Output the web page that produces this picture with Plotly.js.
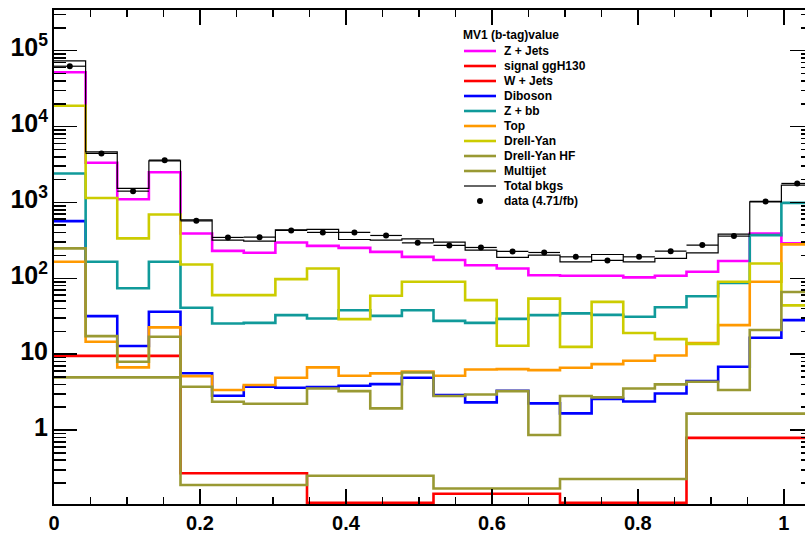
<!DOCTYPE html>
<html><head><meta charset="utf-8">
<script src="https://cdn.plot.ly/plotly-3.0.1.min.js"></script>
<style>html,body{margin:0;padding:0;overflow:hidden;background:#fff}</style>
</head><body>
<div id="chart" style="width:813px;height:536px"></div>
<script>
// ---- histogram binning (MV1 b-tag weight) ----
const xMin = 0, xMax = 1.04;           // 24 bins of 0.0433
// ---- fine-binned backgrounds (24 bins) ----
const zJets   = [52000, 3330, 1100, 2500, 390, 230, 217, 297, 268, 252, 223, 192, 174, 149, 135, 110, 108, 108, 103, 108, 122, 169, 390, 289];
const diboson = [567, 31.8, 12.8, 36.2, 5.6, 2.83, 3.72, 3.61, 3.68, 3.84, 4.04, 4.89, 2.89, 2.32, 3.3, 2.25, 1.66, 2.58, 2.38, 3.04, 4.42, 6.82, 16.5, 28.1];
const zbb     = [2410, 165, 74, 165, 41, 25.4, 25.9, 32.7, 29.6, 38, 32, 38, 27.5, 25.9, 29.2, 32.7, 34.5, 33, 31.1, 41.5, 58, 87, 371, 988];
const top_    = [165, 14.6, 6.7, 22.6, 5.15, 3.37, 3.92, 4.89, 6.7, 5.2, 5.59, 5.9, 5.2, 6.3, 6.35, 6.17, 6.62, 7.4, 8.2, 9.6, 14, 24.2, 90, 280];
const drellYan   = [18800, 1145, 336, 695, 152, 60, 60, 97.6, 135, 29, 59, 90, 90, 51.6, 12.9, 54, 12.5, 49, 19, 15.8, 13.7, 90, 157, 44];
const drellYanHF = [248, 17.3, 7.94, 17, 3.72, 2.36, 2.22, 2.22, 3.54, 3.26, 1.93, 5.75, 2.81, 2.95, 3.26, 0.86, 2.81, 2.7, 3.54, 4.0, 4.33, 3.37, 20.8, 66];
// ---- coarse-binned samples (6 bins); 0.11 = empty bin drawn on the frame bottom ----
const wJets    = [9.5, 0.27, 0.11, 0.145, 0.11, 0.79];
const multijet = [4.95, 0.189, 0.25, 0.17, 0.227, 1.65];
// ---- totals and data ----
const totalBkg = [73400, 4645, 1529, 3540, 588, 319, 309, 436, 441, 325, 319, 332, 300, 235, 189, 202, 165, 206, 165, 183, 217, 382, 1018, 1690];
const dataObs  = [62400, 4424, 1409, 3607, 572, 346, 349, 428, 403, 403, 367, 294, 271, 255, 226, 219, 192, 172, 192, 228, 274, 360, 1030, 1780];
// ---- legend ----
const legendTitle = 'MV1 (b-tag)value';
const legendNames  = ['Z + Jets', 'signal ggH130', 'W + Jets', 'Diboson', 'Z + bb', 'Top', 'Drell-Yan', 'Drell-Yan HF', 'Multijet', 'Total bkgs', 'data (4.71/fb)'];
const legendColors = ['#ff00ff', '#ff0000', '#ff0000', '#0000ff', '#109a9a', '#ff9900', '#cccc00', '#999933', '#999933', '#000000', '#000000'];

const FONT = 'Liberation Sans, Arial, Helvetica, sans-serif';

function stepTrace(vals, color, width) {
  const w = (xMax - xMin) / vals.length;
  const x = [], y = [];
  for (let i = 0; i <= vals.length; i++) {
    x.push(xMin + i * w);
    y.push(vals[Math.min(i, vals.length - 1)]);
  }
  return {type: 'scatter', mode: 'lines', x: x, y: y,
          line: {shape: 'hv', color: color, width: width},
          showlegend: false, hoverinfo: 'skip', cliponaxis: true};
}

const LW = 2.6;
const traces = [
  stepTrace(zJets, legendColors[0], LW),
  stepTrace(wJets, legendColors[2], LW),
  stepTrace(diboson, legendColors[3], LW),
  stepTrace(zbb, legendColors[4], LW),
  stepTrace(top_, legendColors[5], LW),
  stepTrace(drellYan, legendColors[6], LW),
  stepTrace(drellYanHF, legendColors[7], LW),
  stepTrace(multijet, legendColors[8], LW),
  stepTrace(totalBkg, legendColors[9], 1.2)
];
const bw = (xMax - xMin) / dataObs.length;
traces.push({
  type: 'scatter', mode: 'markers',
  x: dataObs.map((v, i) => xMin + (i + 0.5) * bw),
  y: dataObs,
  marker: {color: '#000', size: 6},
  error_x: {type: 'constant', value: bw / 2, width: 0, thickness: 1.2, color: '#000'},
  showlegend: false, hoverinfo: 'skip'
});

// legend drawn as paper-positioned items
const L = 54, R = 813, T = 10, B = 504;
const px = v => (v - L) / (R - L);
const py = v => (B - v) / (B - T);
const shapes = [], annotations = [];
annotations.push({xref: 'paper', yref: 'paper', x: px(461), y: py(35), xanchor: 'left', yanchor: 'middle',
  text: legendTitle, showarrow: false, font: {family: FONT, size: 12, color: '#000', weight: 'bold'}});
legendNames.forEach((name, i) => {
  const cy = 51 + i * 15;
  annotations.push({xref: 'paper', yref: 'paper', x: px(502), y: py(cy), xanchor: 'left', yanchor: 'middle',
    text: name, showarrow: false, font: {family: FONT, size: 12, color: '#000', weight: 'bold'}});
  if (i === legendNames.length - 1) {
    shapes.push({type: 'circle', xref: 'paper', yref: 'paper', xsizemode: 'pixel', ysizemode: 'pixel',
      xanchor: px(480), yanchor: py(cy), x0: -3, x1: 3, y0: -3, y1: 3,
      fillcolor: '#000', line: {width: 0}});
  } else {
    shapes.push({type: 'line', xref: 'paper', yref: 'paper', x0: px(464), x1: px(496), y0: py(cy), y1: py(cy),
      line: {color: legendColors[i], width: i === legendNames.length - 2 ? 1.2 : LW}});
  }
});

const tickFont = {family: FONT, size: 20, color: '#000', weight: 'bold'};
const layout = {
  width: 813, height: 536,
  margin: {l: L, r: 0, t: T, b: 536 - B, pad: 0},
  paper_bgcolor: '#fff', plot_bgcolor: '#fff',
  showlegend: false,
  xaxis: {
    range: [xMin, xMax], showgrid: false, zeroline: false,
    showline: true, linecolor: '#000', linewidth: 2, mirror: 'ticks',
    ticks: 'inside', ticklen: 15, tickwidth: 1.6, tickcolor: '#000',
    tick0: 0, dtick: 0.2,
    minor: {ticks: 'inside', dtick: 0.05, tick0: 0, ticklen: 7, tickwidth: 1.6, tickcolor: '#000', showgrid: false},
    tickfont: tickFont
  },
  yaxis: {
    type: 'log', range: [-0.974, 5.536], showgrid: false, zeroline: false,
    showline: true, linecolor: '#000', linewidth: 2, mirror: 'ticks',
    ticks: 'inside', ticklen: 23, tickwidth: 1.6, tickcolor: '#000',
    dtick: 1, exponentformat: 'power',
    minor: {ticks: 'inside', dtick: 'D1', ticklen: 12, tickwidth: 1.6, tickcolor: '#000', showgrid: false},
    ticklabelstandoff: 0,
    ticklabelshift: -3,
    tickfont: tickFont
  },
  shapes: shapes,
  annotations: annotations
};

Plotly.newPlot('chart', traces, layout, {staticPlot: true, displayModeBar: false});
</script>
</body></html>
